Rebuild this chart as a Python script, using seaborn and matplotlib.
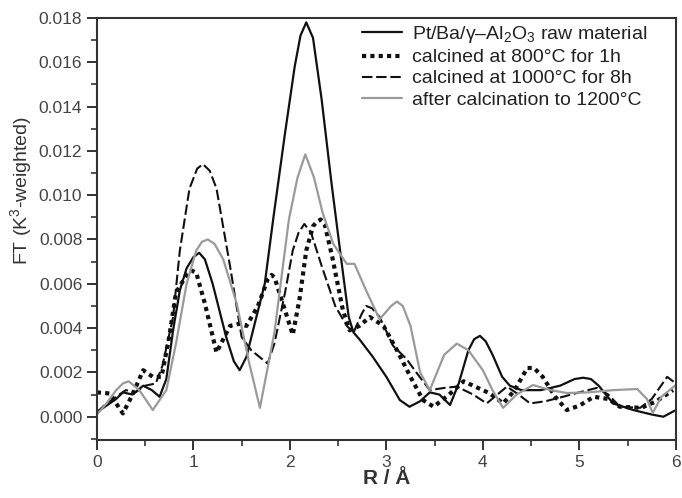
import matplotlib
matplotlib.use("Agg")
import matplotlib.pyplot as plt
import seaborn as sns
from matplotlib.ticker import MultipleLocator, FormatStrFormatter

# ---------------- data ----------------
labels = [
    "Pt/Ba/γ–Al$_2$O$_3$ raw material",
    "calcined at 800°C for 1h",
    "calcined at 1000°C for 8h",
    "after calcination to 1200°C",
]

r_raw = [0.0, 0.1, 0.2, 0.27, 0.37, 0.48, 0.57, 0.65, 0.72, 0.79, 0.86, 0.93, 1.0, 1.06, 1.12,
         1.2, 1.34, 1.42, 1.48, 1.55, 1.63, 1.74, 1.83, 1.95, 2.05, 2.11, 2.17, 2.24, 2.33,
         2.43, 2.5, 2.55, 2.61, 2.66, 2.72, 2.86, 3.0, 3.14, 3.24, 3.35, 3.45, 3.55, 3.66,
         3.75, 3.85, 3.91, 3.97, 4.03, 4.1, 4.2, 4.28, 4.4, 4.6, 4.8, 4.95, 5.04, 5.12, 5.2,
         5.35, 5.56, 5.75, 5.87, 6.0]
ft_raw = [0.0002, 0.0005, 0.0008, 0.0011, 0.0010, 0.0014, 0.0012, 0.0009, 0.0017, 0.0039,
          0.0057, 0.0067, 0.0072, 0.0074, 0.0071, 0.0060, 0.0036, 0.0025, 0.0021, 0.0027,
          0.0041, 0.0060, 0.0090, 0.0128, 0.0158, 0.0172, 0.0178, 0.0171, 0.0143, 0.0106,
          0.0082, 0.0065, 0.0045, 0.0038, 0.0035, 0.0027, 0.0018, 0.00075, 0.00045, 0.0007,
          0.0011, 0.0010, 0.00053, 0.0015, 0.0030, 0.0035, 0.00365, 0.0034, 0.0028, 0.0018,
          0.0014, 0.0012, 0.0012, 0.0014, 0.0017, 0.00176, 0.0017, 0.0014, 0.0006, 0.0003,
          0.0001, 0.0, 0.0003]

r_800 = [0.0, 0.13, 0.27, 0.37, 0.48, 0.58, 0.67, 0.75, 0.82, 0.93, 0.98, 1.03, 1.12, 1.24,
         1.38, 1.48, 1.55, 1.67, 1.77, 1.81, 1.84, 1.95, 2.03, 2.1, 2.17, 2.24, 2.28, 2.32,
         2.36, 2.44, 2.55, 2.62, 2.72, 2.83, 2.97, 3.11, 3.25, 3.38, 3.49, 3.65, 3.8, 3.95,
         4.07, 4.21, 4.33, 4.46, 4.53, 4.62, 4.75, 4.87, 5.0, 5.15, 5.3, 5.42, 5.64, 5.8, 5.97]
ft_800 = [0.0011, 0.00105, 0.00015, 0.0010, 0.0021, 0.0018, 0.0018, 0.0036, 0.0056, 0.0064,
          0.0066, 0.0065, 0.0051, 0.0029, 0.0041, 0.0042, 0.0041, 0.0050, 0.0062, 0.0064,
          0.0063, 0.0048, 0.0037, 0.0053, 0.0075, 0.0086, 0.0088, 0.0089, 0.0087, 0.0072,
          0.0048, 0.0039, 0.0041, 0.0045, 0.0041, 0.0030, 0.0018, 0.00075, 0.00045, 0.0010,
          0.0016, 0.0013, 0.00106, 0.0006, 0.0012, 0.0022, 0.0022, 0.0018, 0.0009, 0.0003,
          0.0005, 0.0009, 0.0008, 0.00045, 0.0004, 0.0007, 0.0012]

r_1000 = [0.0, 0.1, 0.2, 0.3, 0.4, 0.5, 0.61, 0.68, 0.79, 0.86, 0.96, 1.04, 1.10, 1.17, 1.24,
          1.38, 1.5, 1.6, 1.77, 1.84, 1.95, 2.03, 2.09, 2.15, 2.22, 2.33, 2.47, 2.59, 2.66,
          2.74, 2.79, 2.85, 2.93, 3.07, 3.21, 3.31, 3.45, 3.6, 3.73, 3.9, 4.04, 4.15, 4.25,
          4.37, 4.49, 4.65, 4.83, 5.0, 5.18, 5.3, 5.42, 5.63, 5.75, 5.91, 6.0]
ft_1000 = [0.0002, 0.0006, 0.0009, 0.0012, 0.0011, 0.0014, 0.0015, 0.0023, 0.0045, 0.0075,
           0.0103, 0.0112, 0.0114, 0.0111, 0.0103, 0.0068, 0.0036, 0.0030, 0.0024, 0.0033,
           0.0056, 0.0075, 0.0083, 0.0087, 0.0083, 0.0068, 0.0050, 0.0041, 0.0038, 0.0046,
           0.0050, 0.0049, 0.0045, 0.0032, 0.0026, 0.0020, 0.0012, 0.0013, 0.00136, 0.0010,
           0.0006, 0.0010, 0.00136, 0.0010, 0.0006, 0.0007, 0.0009, 0.0011, 0.0013, 0.0010,
           0.00045, 0.0004, 0.0008, 0.0018, 0.0015]

r_1200 = [0.0, 0.1, 0.2, 0.27, 0.33, 0.44, 0.58, 0.72, 0.82, 0.93, 1.03, 1.09, 1.15, 1.22,
          1.31, 1.45, 1.58, 1.69, 1.84, 1.99, 2.08, 2.16, 2.25, 2.34, 2.45, 2.59, 2.67, 2.79,
          2.93, 3.05, 3.11, 3.17, 3.25, 3.35, 3.45, 3.6, 3.73, 3.85, 4.0, 4.1, 4.21, 4.35,
          4.52, 4.7, 4.87, 5.1, 5.35, 5.6, 5.7, 5.76, 5.85, 6.0]
ft_1200 = [0.0001, 0.0006, 0.0012, 0.0015, 0.0016, 0.0012, 0.0003, 0.0012, 0.0033, 0.0060,
           0.0075, 0.0079, 0.0080, 0.0078, 0.0071, 0.0051, 0.0024, 0.0004, 0.0038, 0.0089,
           0.0108, 0.01184, 0.0108, 0.0092, 0.0078, 0.0069, 0.0069, 0.0057, 0.0044, 0.0050,
           0.0052, 0.0050, 0.0041, 0.0020, 0.0012, 0.0028, 0.0033, 0.0030, 0.0021, 0.0012,
           0.0004, 0.0010, 0.00143, 0.0012, 0.00107, 0.0011, 0.0012, 0.00125, 0.0008, 0.00017,
           0.0009, 0.00143]

x_ticks = [0, 1, 2, 3, 4, 5, 6]

# ---------------- style ----------------
sns.set_style("ticks")
plt.rcParams["font.family"] = ["Liberation Sans", "DejaVu Sans"]
plt.rcParams["mathtext.fontset"] = "custom"
plt.rcParams["mathtext.rm"] = "Liberation Sans"
plt.rcParams["mathtext.it"] = "Liberation Sans:italic"

fig = plt.figure(figsize=(6.82, 4.98), dpi=100)
ax = fig.add_axes([0.142, 0.1165, 0.849, 0.8475])

series = [
    (r_raw, ft_raw, dict(color="#111111", linewidth=1.6, linestyle="-")),
    (r_800, ft_800, dict(color="#111111", linewidth=3.0, linestyle=(0, (1, 1)))),
    (r_1000, ft_1000, dict(color="#111111", linewidth=1.5, linestyle=(0, (5, 1.8)))),
    (r_1200, ft_1200, dict(color="#9a9a9a", linewidth=1.6, linestyle="-")),
]
for (rx, fy, kw), lab in zip(series, labels):
    sns.lineplot(x=rx, y=fy, ax=ax, label=lab, errorbar=None, sort=False, **kw)

ax.set_xlim(0, 6)
ax.set_ylim(-0.00105, 0.018)
ax.set_xticks(x_ticks)
ax.xaxis.set_minor_locator(MultipleLocator(0.5))
ax.yaxis.set_major_locator(MultipleLocator(0.002))
ax.yaxis.set_minor_locator(MultipleLocator(0.001))
ax.yaxis.set_major_formatter(FormatStrFormatter("%.3f"))

for s in ax.spines.values():
    s.set_linewidth(1.5)
    s.set_color("#333333")
    s.set_visible(True)

ax.tick_params(axis="both", which="major", direction="out", length=7, width=1.4,
               labelsize=12.5, labelcolor="#444444", color="#333333")
ax.tick_params(axis="both", which="minor", direction="out", length=4, width=1.2,
               color="#333333")
ax.tick_params(top=False, right=False, which="both")

ax.set_ylabel("FT (K$^3$-weighted)", fontsize=14, color="#333333")
ax.yaxis.set_label_coords(-0.108, 0.592)
ax.set_xlabel("R / Å", fontsize=15, fontweight="bold", color="#333333")
ax.xaxis.set_label_coords(0.5, -0.068)
ax.xaxis.label.set_va("top")

leg = ax.legend(loc="upper left", bbox_to_anchor=(0.458, 0.985), frameon=False,
                fontsize=14, handlelength=2.05, handletextpad=0.5, labelspacing=0.18,
                borderpad=0, borderaxespad=0)
for t in leg.get_texts():
    t.set_color("#222222")

fig.savefig("out.png", dpi=100)
